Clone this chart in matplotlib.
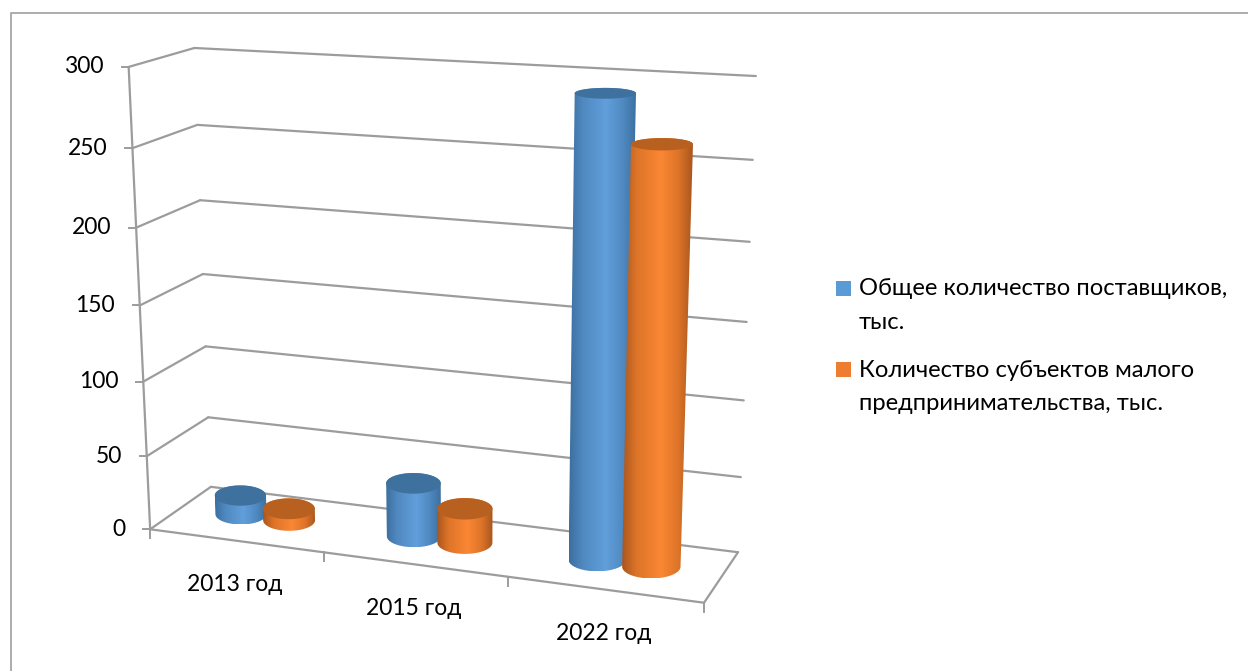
import numpy as np
import matplotlib
matplotlib.use("Agg")
import matplotlib.pyplot as plt
from matplotlib.colors import LinearSegmentedColormap
from matplotlib.patches import Polygon

plt.rcParams["font.family"] = ["Lato", "Open Sans", "DejaVu Sans"]

# данные
categories = ["2013 год", "2015 год", "2022 год"]
series_names = [["Общее количество поставщиков,", "тыс."],
                ["Количество субъектов малого", "предпринимательства, тыс."]]
suppliers = [13, 36, 292]
small_business = [8, 23, 264]
value_ticks = [0, 50, 100, 150, 200, 250, 300]

W, H = 1248, 671
GRID = "#9c9c9c"
FONT = 16.5
LEGEND_FONT = 17.1
MID_DEPTH = 0.52

# углы коробки: (категория, значение, глубина) -> пиксели
corners = [((0, 0, 0), (148, 528)), ((0, 300, 0), (130, 68)),
           ((0, 0, 1), (213, 488)), ((0, 300, 1), (193, 47)),
           ((3, 0, 1), (737, 552)), ((3, 300, 1), (756, 76)),
           ((3, 0, 0), (705, 603))]
rows = []
for (a, b, c), (u, v) in corners:
    rows.append([a, b, c, 1, 0, 0, 0, 0, -u*a, -u*b, -u*c, -u])
    rows.append([0, 0, 0, 0, a, b, c, 1, -v*a, -v*b, -v*c, -v])
P = np.linalg.svd(np.array(rows, float))[2][-1].reshape(3, 4)


def pt(x, val, d):
    q = P @ np.array([x, val, d, 1.0])
    return q[0] / q[2], q[1] / q[2]


def line3(a, b, lw=1.6, color=GRID):
    ua, va = pt(*a)
    ub, vb = pt(*b)
    ax.plot([ua, ub], [va, vb], color=color, lw=lw, solid_capstyle="round", zorder=1)


def ellipse_at(x, val, rx, rd):
    # эллипс без наклона: центр и размеры берем из проекции
    cu, cv = pt(x, val, MID_DEPTH)
    half_w = (pt(x + rx, val, MID_DEPTH)[0] - pt(x - rx, val, MID_DEPTH)[0]) / 2
    half_h = (pt(x, val, MID_DEPTH - rd)[1] - pt(x, val, MID_DEPTH + rd)[1]) / 2
    return cu, cv, half_w, half_h


def cylinder(x, val, rx, rd, dark, mid, light, top, zorder):
    bu, bv, bw, bh = ellipse_at(x, 0, rx, rd)
    tu, tv, tw, th = ellipse_at(x, val, rx, rd)
    t = np.linspace(0, np.pi, 45)
    lower = np.c_[bu - bw * np.cos(t), bv + bh * np.sin(t)][::-1]
    upper = np.c_[tu - tw * np.cos(t), tv - th * np.sin(t)]
    outline = np.vstack([lower[::-1], upper[::-1]])
    left, right = outline[:, 0].min(), outline[:, 0].max()
    cmap = LinearSegmentedColormap.from_list("c", [(0, dark), (0.2, mid), (0.55, light), (0.8, mid), (1, dark)])
    im = ax.imshow(np.linspace(0, 1, 128).reshape(1, -1), cmap=cmap, vmin=0, vmax=1,
                   extent=[left, right, outline[:, 1].max(), outline[:, 1].min()],
                   aspect="auto", interpolation="bilinear", zorder=zorder)
    poly = Polygon(outline, closed=True, fc="none", ec="none", zorder=zorder)
    ax.add_patch(poly)
    im.set_clip_path(poly)
    a = np.linspace(0, 2 * np.pi, 90)
    ax.fill(tu + tw * np.cos(a), tv + th * np.sin(a), color=top, lw=0, zorder=zorder + 0.1)


fig = plt.figure(figsize=(W / 100, H / 100), dpi=100)
ax = fig.add_axes([0, 0, 1, 1])
ax.set_xlim(0, W)
ax.set_ylim(H, 0)
ax.axis("off")

# рамка диаграммы
ax.plot([10.5, 10.5, W], [H, 12.5, 12.5], color="#a6a6a6", lw=1.3, zorder=0)

# стенки и сетка
for v in value_ticks:
    line3((0, v, 0), (0, v, 1))
    line3((0, v, 1), (3, v, 1))
    u0, v0 = pt(0, v, 0)
    ax.plot([u0 - 7, u0], [v0, v0], color=GRID, lw=1.4, zorder=1)
    ax.text(u0 - 25, v0, str(v), ha="right", va="center", fontsize=FONT, color="black")
line3((0, 0, 0), (0, 300, 0))
line3((0, 0, 0), (3, 0, 0))
line3((3, 0, 0), (3, 0, 1))
for i in range(4):
    u0, v0 = pt(i, 0, 0)
    ax.plot([u0, u0], [v0, v0 + 9], color=GRID, lw=1.4, zorder=1)

# подписи категорий
for i, name in enumerate(categories):
    u0, v0 = pt(i + 0.5, 0, 0)
    ax.text(u0 - 1, v0 + 44, name, ha="center", va="center", fontsize=FONT, color="black")

# цилиндры
BLUE = ("#3b6f9f", "#5089c0", "#619fdb", "#3f719f")
ORANGE = ("#a9561f", "#dd7428", "#fb8734", "#b7601f")
for i in range(3):
    cylinder(i + 0.351, suppliers[i], 0.152, 0.24, *BLUE, zorder=3 + i)
    cylinder(i + 0.635, small_business[i], 0.152, 0.24, *ORANGE, zorder=3.5 + i)

# легенда
legend_y = [281, 362]
baselines = [[295, 329], [377, 410]]
legend_colors = ["#5b9bd5", "#ed7d31"]
for y, base, c, lines in zip(legend_y, baselines, legend_colors, series_names):
    ax.add_patch(plt.Rectangle((836, y), 15, 15, fc=c, ec="none"))
    for b, s in zip(base, lines):
        ax.text(859, b, s, ha="left", va="baseline", fontsize=LEGEND_FONT, color="black")

fig.savefig("out.png", dpi=100)
